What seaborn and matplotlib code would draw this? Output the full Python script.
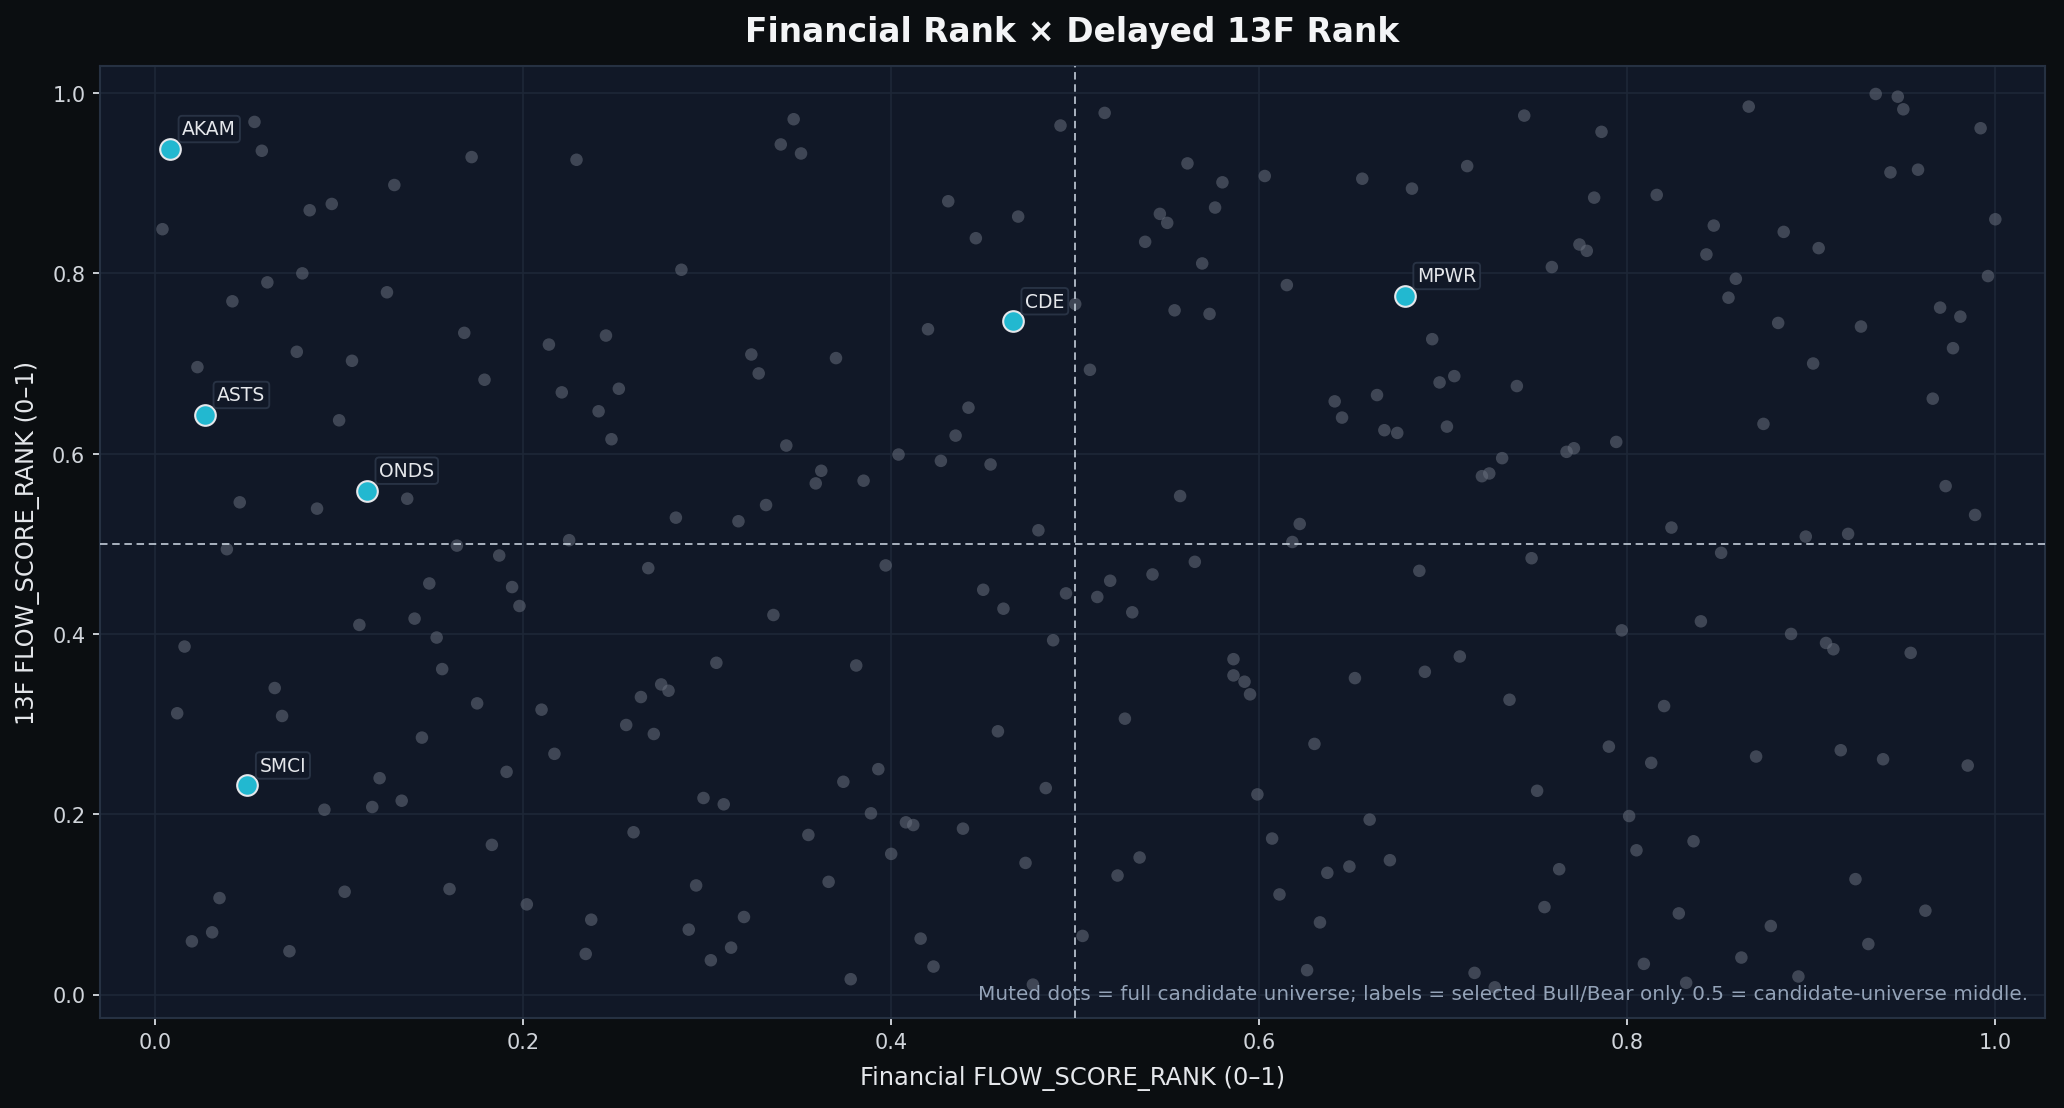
import matplotlib
matplotlib.use('Agg')

import matplotlib.pyplot as plt
import pandas as pd
import seaborn as sns

# full candidate universe (muted dots)
universe_fin = [
    0.054, 0.058, 0.172, 0.229, 0.130, 0.084, 0.096, 0.004, 0.080, 0.061, 0.042, 0.126,
    0.168, 0.214, 0.077, 0.107, 0.023, 0.179, 0.221, 0.100, 0.046, 0.088, 0.137, 0.225,
    0.164, 0.039, 0.187, 0.149, 0.194, 0.198, 0.141, 0.111, 0.153, 0.016, 0.156, 0.065,
    0.012, 0.069, 0.175, 0.210, 0.145, 0.217, 0.122, 0.191, 0.134, 0.118, 0.092, 0.183,
    0.035, 0.103, 0.160, 0.202, 0.031, 0.020, 0.073,
    0.347, 0.340, 0.351, 0.492, 0.431, 0.469, 0.446, 0.286, 0.420, 0.245, 0.324, 0.328,
    0.370, 0.252, 0.241, 0.248, 0.343, 0.404, 0.442, 0.435, 0.427, 0.454, 0.362, 0.359,
    0.385, 0.332, 0.283, 0.317, 0.480,
    0.268, 0.397, 0.336, 0.450, 0.461, 0.495, 0.488, 0.305, 0.381, 0.275, 0.279, 0.264,
    0.256, 0.271, 0.458, 0.393, 0.374, 0.484, 0.298, 0.309, 0.389, 0.408, 0.412, 0.439,
    0.260, 0.355, 0.400, 0.473, 0.366, 0.294, 0.237, 0.320, 0.290, 0.313, 0.302, 0.234,
    0.416, 0.423, 0.378, 0.477,
    0.516, 0.744, 0.561, 0.580, 0.603, 0.656, 0.683, 0.713, 0.576, 0.546, 0.550, 0.538,
    0.569, 0.615, 0.500, 0.554, 0.573, 0.694, 0.508, 0.706, 0.698, 0.740, 0.664, 0.641,
    0.645, 0.668, 0.675, 0.702, 0.732, 0.725, 0.721, 0.557, 0.622, 0.618,
    0.565, 0.519, 0.512, 0.542, 0.531, 0.687, 0.748, 0.586, 0.586, 0.592, 0.595, 0.652,
    0.690, 0.709, 0.736, 0.527, 0.630, 0.599, 0.751, 0.660, 0.607, 0.535, 0.523, 0.637,
    0.649, 0.671, 0.611, 0.633, 0.755, 0.504, 0.626, 0.717, 0.728,
    0.866, 0.935, 0.947, 0.950, 0.992, 0.786, 0.943, 0.958, 0.782, 0.816, 1.000, 0.847,
    0.885, 0.904, 0.774, 0.778, 0.843, 0.759, 0.859, 0.855, 0.996, 0.970, 0.981, 0.882,
    0.927, 0.977, 0.901, 0.966, 0.874, 0.767, 0.771, 0.794, 0.973, 0.989, 0.824, 0.897,
    0.920,
    0.851, 0.797, 0.840, 0.889, 0.908, 0.912, 0.954, 0.820, 0.790, 0.813, 0.870, 0.916,
    0.939, 0.985, 0.801, 0.836, 0.805, 0.763, 0.924, 0.828, 0.878, 0.962, 0.931, 0.862,
    0.809, 0.893, 0.832,
]
universe_13f = [
    0.968, 0.936, 0.929, 0.926, 0.898, 0.870, 0.877, 0.849, 0.800, 0.790, 0.769, 0.779,
    0.734, 0.721, 0.713, 0.703, 0.696, 0.682, 0.668, 0.637, 0.546, 0.539, 0.550, 0.504,
    0.498, 0.494, 0.487, 0.456, 0.452, 0.431, 0.417, 0.410, 0.396, 0.386, 0.361, 0.340,
    0.312, 0.309, 0.323, 0.316, 0.285, 0.267, 0.240, 0.247, 0.215, 0.208, 0.205, 0.166,
    0.107, 0.114, 0.117, 0.100, 0.069, 0.059, 0.048,
    0.971, 0.943, 0.933, 0.964, 0.880, 0.863, 0.839, 0.804, 0.738, 0.731, 0.710, 0.689,
    0.706, 0.672, 0.647, 0.616, 0.609, 0.599, 0.651, 0.620, 0.592, 0.588, 0.581, 0.567,
    0.570, 0.543, 0.529, 0.525, 0.515,
    0.473, 0.476, 0.421, 0.449, 0.428, 0.445, 0.393, 0.368, 0.365, 0.344, 0.337, 0.330,
    0.299, 0.289, 0.292, 0.250, 0.236, 0.229, 0.218, 0.211, 0.201, 0.191, 0.188, 0.184,
    0.180, 0.177, 0.156, 0.146, 0.125, 0.121, 0.083, 0.086, 0.072, 0.052, 0.038, 0.045,
    0.062, 0.031, 0.017, 0.011,
    0.978, 0.975, 0.922, 0.901, 0.908, 0.905, 0.894, 0.919, 0.873, 0.866, 0.856, 0.835,
    0.811, 0.787, 0.766, 0.759, 0.755, 0.727, 0.693, 0.686, 0.679, 0.675, 0.665, 0.658,
    0.640, 0.626, 0.623, 0.630, 0.595, 0.578, 0.575, 0.553, 0.522, 0.502,
    0.480, 0.459, 0.441, 0.466, 0.424, 0.470, 0.484, 0.372, 0.354, 0.347, 0.333, 0.351,
    0.358, 0.375, 0.327, 0.306, 0.278, 0.222, 0.226, 0.194, 0.173, 0.152, 0.132, 0.135,
    0.142, 0.149, 0.111, 0.080, 0.097, 0.065, 0.027, 0.024, 0.008,
    0.985, 0.999, 0.996, 0.982, 0.961, 0.957, 0.912, 0.915, 0.884, 0.887, 0.860, 0.853,
    0.846, 0.828, 0.832, 0.825, 0.821, 0.807, 0.794, 0.773, 0.797, 0.762, 0.752, 0.745,
    0.741, 0.717, 0.700, 0.661, 0.633, 0.602, 0.606, 0.613, 0.564, 0.532, 0.518, 0.508,
    0.511,
    0.490, 0.404, 0.414, 0.400, 0.390, 0.383, 0.379, 0.320, 0.275, 0.257, 0.264, 0.271,
    0.261, 0.254, 0.198, 0.170, 0.160, 0.139, 0.128, 0.090, 0.076, 0.093, 0.056, 0.041,
    0.034, 0.020, 0.013,
]

# selected Bull/Bear names
picked_tickers = ["AKAM", "ASTS", "ONDS", "SMCI", "CDE", "MPWR"]
picked_fin = [0.008, 0.027, 0.115, 0.050, 0.466, 0.679]
picked_13f = [0.938, 0.643, 0.559, 0.232, 0.747, 0.775]

FIG_BG = "#0b0e11"
AX_BG = "#111827"
CYAN = "#22b8d0"

universe_df = pd.DataFrame({"fin": universe_fin, "f13": universe_13f})
picked_df = pd.DataFrame({"ticker": picked_tickers, "fin": picked_fin, "f13": picked_13f})

sns.set_style("dark")
plt.rcParams['font.family'] = ['DejaVu Sans']

fig = plt.figure(figsize=(13.76, 7.393), dpi=150, facecolor=FIG_BG)
ax = fig.add_axes([0.0484, 0.0812, 0.9424, 0.8584])
ax.set_facecolor(AX_BG)

ax.grid(True, color="#1e2737", linewidth=0.8, zorder=0)
ax.set_axisbelow(True)

sns.scatterplot(data=universe_df, x="fin", y="f13", ax=ax, s=36, color="#6b7280",
                alpha=0.52, edgecolor="none", zorder=2)
sns.scatterplot(data=picked_df, x="fin", y="f13", ax=ax, s=98, color=CYAN,
                edgecolor="#e5e7eb", linewidth=1.0, zorder=4)

for _, row in picked_df.iterrows():
    ax.annotate(row["ticker"], (row["fin"], row["f13"]), xytext=(6, 5),
                textcoords="offset points", ha="left", va="bottom",
                fontsize=9, color="#e5e7eb", zorder=5,
                bbox=dict(boxstyle="round,pad=0.2", facecolor="#111827",
                          edgecolor="#2b3648", linewidth=0.9, alpha=0.9))

ax.axvline(0.5, color="#cbd5e1", linestyle=(0, (4, 2.5)), linewidth=0.9, alpha=0.85, zorder=3)
ax.axhline(0.5, color="#cbd5e1", linestyle=(0, (4, 2.5)), linewidth=0.9, alpha=0.85, zorder=3)

ax.set_xlim(-0.03, 1.027)
ax.set_ylim(-0.026, 1.03)
ax.set_xticks([0.0, 0.2, 0.4, 0.6, 0.8, 1.0])
ax.set_yticks([0.0, 0.2, 0.4, 0.6, 0.8, 1.0])

ax.tick_params(axis="both", colors="#d1d5db", labelsize=10, length=3.5, width=0.9,
               bottom=True, left=True)
for spine in ax.spines.values():
    spine.set_visible(True)
    spine.set_color("#263142")
    spine.set_linewidth(1.0)

ax.set_xlabel("Financial FLOW_SCORE_RANK (0–1)", fontsize=11.6, color="#e5e7eb", labelpad=6)
ax.set_ylabel("13F FLOW_SCORE_RANK (0–1)", fontsize=11.6, color="#e5e7eb", labelpad=6)

ax.set_title("Financial Rank × Delayed 13F Rank", fontsize=15.8, fontweight="bold",
             color="#f3f4f6", pad=12)

ax.text(0.991, 0.026,
        "Muted dots = full candidate universe; labels = selected Bull/Bear only. "
        "0.5 = candidate-universe middle.",
        transform=ax.transAxes, ha="right", va="center", fontsize=9.6, color="#94a3b8",
        zorder=6)

fig.savefig("out.png", dpi=150, facecolor=FIG_BG)
plt.close(fig)
